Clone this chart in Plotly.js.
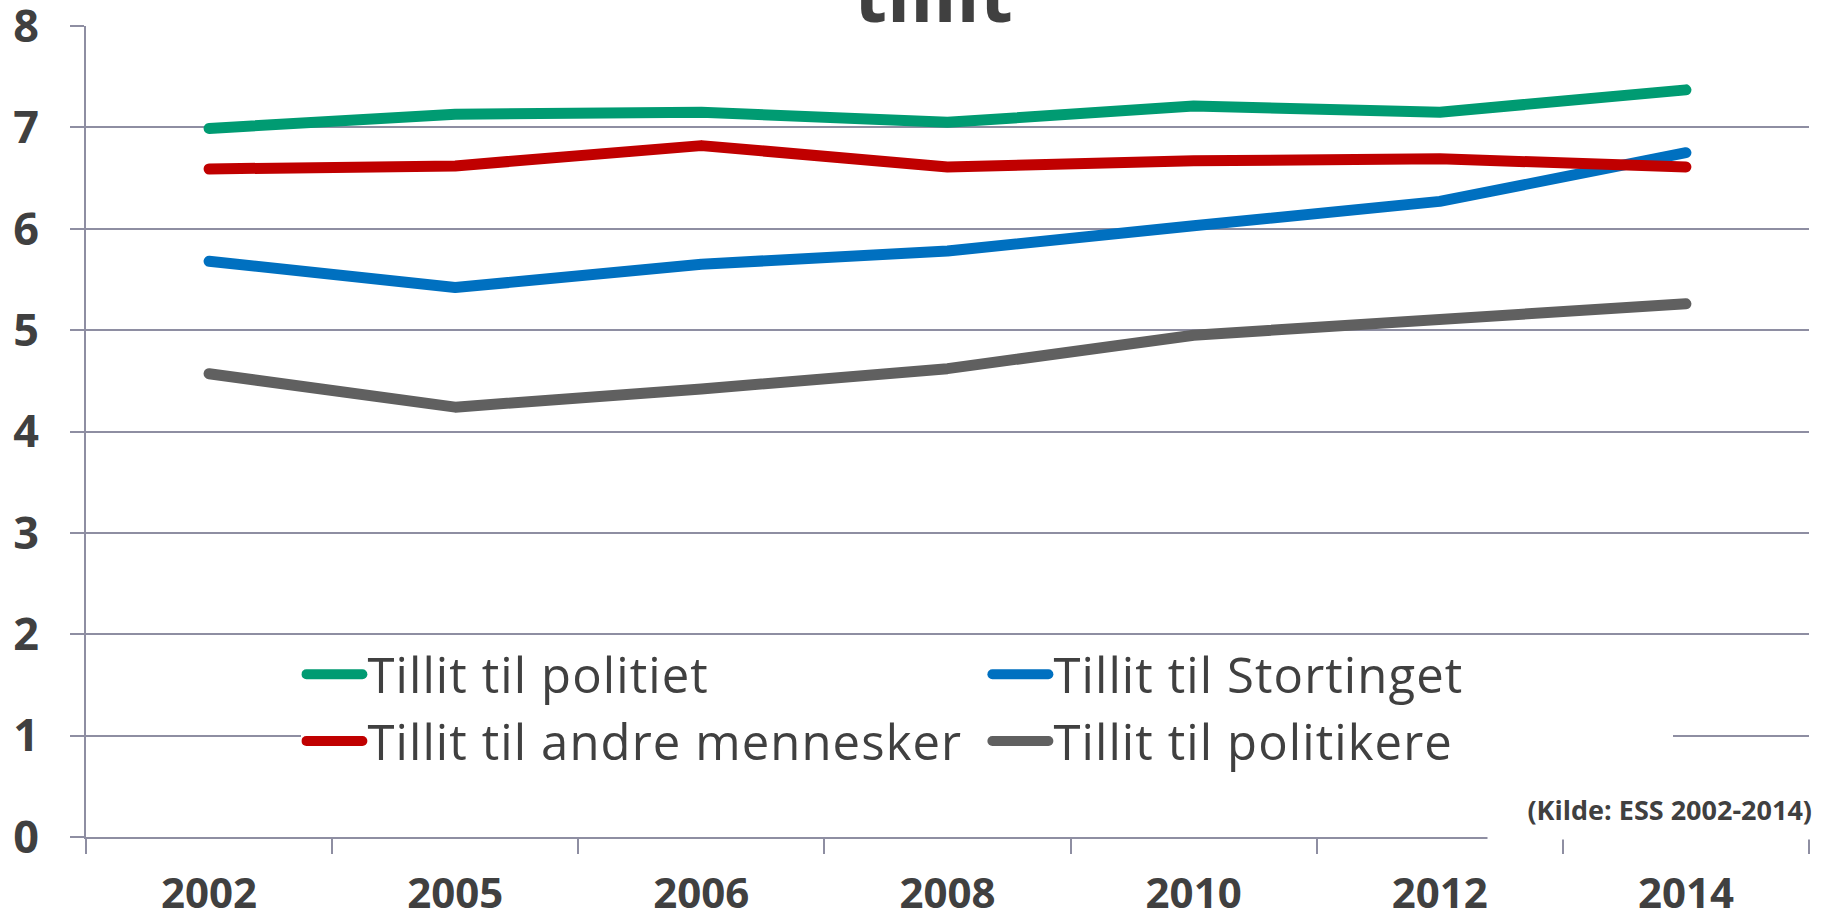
<!DOCTYPE html>
<html>
<head>
<meta charset="utf-8">
<script src="https://cdn.plot.ly/plotly-3.0.1.min.js"></script>
<style>
  html, body { margin: 0; padding: 0; background: #fff; }
  #chart { width: 1822px; height: 914px; }
  .js-line { stroke-linecap: round !important; stroke-linejoin: round !important; }
  .legendtext { letter-spacing: 1.1px; }
</style>
</head>
<body>
<div id="chart"></div>
<script>
const years = ['2002', '2005', '2006', '2008', '2010', '2012', '2014'];
const politiet = [6.99, 7.13, 7.15, 7.05, 7.21, 7.15, 7.37];
const stortinget = [5.68, 5.42, 5.65, 5.78, 6.03, 6.27, 6.75];
const andreMennesker = [6.59, 6.62, 6.82, 6.61, 6.67, 6.69, 6.61];
const politikere = [4.57, 4.24, 4.42, 4.62, 4.95, 5.11, 5.26];
const seriesNames = ['Tillit til politiet', 'Tillit til Stortinget', 'Tillit til andre mennesker', 'Tillit til politikere'];
const seriesColors = ['#009B72', '#0070C0', '#C00000', '#606060'];
const yTicks = [0, 1, 2, 3, 4, 5, 6, 7, 8];
const titleText = 'tillit';
const sourceText = '(Kilde: ESS 2002-2014)';

const seriesValues = [politiet, stortinget, andreMennesker, politikere];
const traces = seriesValues.map((vals, i) => ({
  type: 'scatter',
  mode: 'lines',
  x: years,
  y: vals,
  name: seriesNames[i],
  line: { color: seriesColors[i], width: 11 },
  hoverinfo: 'x+y+name'
}));

const gridColor = '#8E8EA2';
const textColor = '#404040';

const layout = {
  width: 1822,
  height: 914,
  margin: { l: 86, r: 13, t: 26, b: 77 },
  paper_bgcolor: '#ffffff',
  plot_bgcolor: '#ffffff',
  showlegend: true,
  font: { family: 'Open Sans, sans-serif', color: textColor },
  xaxis: {
    type: 'category',
    range: [-0.5, 6.5],
    tickson: 'boundaries',
    ticks: 'outside',
    ticklen: 15,
    tickwidth: 2,
    tickcolor: gridColor,
    showline: true,
    linecolor: gridColor,
    linewidth: 2,
    showgrid: false,
    zeroline: false,
    tickfont: { family: 'Open Sans, sans-serif', size: 42, weight: 'bold', color: textColor },
    ticklabelstandoff: 19,
    ticklabeloverflow: 'allow'
  },
  yaxis: {
    range: [0, 8],
    tickvals: yTicks,
    ticktext: yTicks.map(String),
    ticks: 'outside',
    ticklen: 14,
    tickwidth: 2,
    tickcolor: gridColor,
    showline: true,
    linecolor: gridColor,
    linewidth: 2,
    showgrid: true,
    gridcolor: gridColor,
    gridwidth: 2,
    zeroline: false,
    tickfont: { family: 'Open Sans, sans-serif', size: 45, weight: 'bold', color: textColor },
    ticklabelstandoff: 22,
    ticklabeloverflow: 'allow'
  },
  legend: {
    orientation: 'h',
    x: 0.125,
    xanchor: 'left',
    y: 0.248,
    yanchor: 'top',
    bgcolor: '#ffffff',
    font: { family: 'Open Sans, sans-serif', size: 49, color: textColor },
    entrywidth: 615,
    entrywidthmode: 'pixels',
    itemwidth: 56,
    traceorder: 'normal'
  },
  annotations: [
    {
      text: titleText,
      xref: 'paper', yref: 'paper',
      x: 0.492, y: 1.041,
      xanchor: 'center', yanchor: 'middle',
      showarrow: false,
      font: { family: 'Open Sans, sans-serif', size: 76, weight: 'bold', color: textColor }
    },
    {
      text: '<b>' + sourceText + '</b>',
      xref: 'paper', yref: 'paper',
      x: 1.0035, y: -0.004,
      xanchor: 'right', yanchor: 'bottom',
      width: 322, height: 56,
      align: 'right', valign: 'middle',
      bgcolor: '#ffffff',
      borderpad: 2,
      showarrow: false,
      font: { family: 'Open Sans, sans-serif', size: 27, color: textColor }
    }
  ]
};

Plotly.newPlot('chart', traces, layout, { displayModeBar: false, responsive: false });
</script>
</body>
</html>
